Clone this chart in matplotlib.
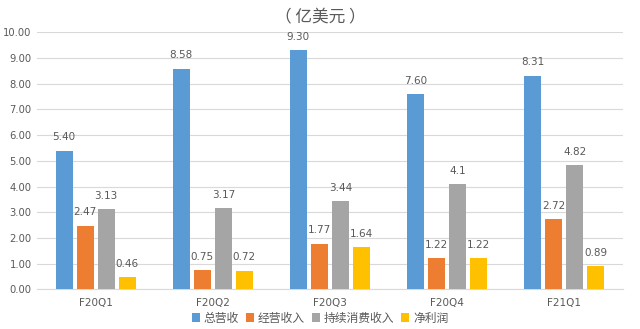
import numpy as np
import matplotlib
matplotlib.use('Agg')
import matplotlib.pyplot as plt

plt.rcParams['font.family'] = ['Noto Sans CJK SC', 'DejaVu Sans']

quarters = ['F20Q1', 'F20Q2', 'F20Q3', 'F20Q4', 'F21Q1']
series_names = ['总营收', '经营收入', '持续消费收入', '净利润']
total_rev = [5.40, 8.58, 9.30, 7.60, 8.31]
op_income = [2.47, 0.75, 1.77, 1.22, 2.72]
cont_income = [3.13, 3.17, 3.44, 4.1, 4.82]
net_profit = [0.46, 0.72, 1.64, 1.22, 0.89]
cont_labels = ['3.13', '3.17', '3.44', '4.1', '4.82']

colors = ['#5B9BD5', '#ED7D31', '#A5A5A5', '#FFC000']
txt = '#595959'

fig = plt.figure(figsize=(6.4, 3.29), dpi=100)
ax = fig.add_axes([0.058, 0.1207, 0.915, 0.781])

x = np.arange(len(quarters))
w = 0.145
pitch = 0.18
all_series = [total_rev, op_income, cont_income, net_profit]
for i, (vals, name, col) in enumerate(zip(all_series, series_names, colors)):
    bars = ax.bar(x + (i - 1.5) * pitch, vals, w, color=col, label=name, zorder=3)
    if i == 2:
        labs = cont_labels
    else:
        labs = ['%.2f' % v for v in vals]
    ax.bar_label(bars, labels=labs, padding=6, fontsize=7.5, color=txt,
                 family=['DejaVu Sans'])

ax.set_xlim(-0.5, len(quarters) - 0.5)
ax.set_ylim(0, 10)
ax.set_yticks(np.arange(0, 11, 1))
ax.set_yticklabels(['%.2f' % v for v in np.arange(0, 11, 1)], family=['DejaVu Sans'])
ax.set_xticks(x)
ax.set_xticklabels(quarters, family=['DejaVu Sans'])
ax.tick_params(length=0, labelsize=7.5, colors=txt)
ax.tick_params(axis='y', pad=4, labelsize=7.2)
ax.tick_params(axis='x', pad=6)
ax.grid(axis='y', color='#D9D9D9', linewidth=0.8, zorder=0)
for s in ['top', 'right', 'left']:
    ax.spines[s].set_visible(False)
ax.spines['bottom'].set_color('#D9D9D9')

fig.text(0.5, 0.947, '（ 亿美元 ）', ha='center', va='center', fontsize=12, color=txt)

fig.legend(loc='center', bbox_to_anchor=(0.5, 0.033), ncol=4, frameon=False,
           fontsize=8.5, handlelength=0.7, handleheight=0.7, handletextpad=0.3,
           columnspacing=0.6, labelcolor=txt)

plt.savefig('out.png', dpi=100)
